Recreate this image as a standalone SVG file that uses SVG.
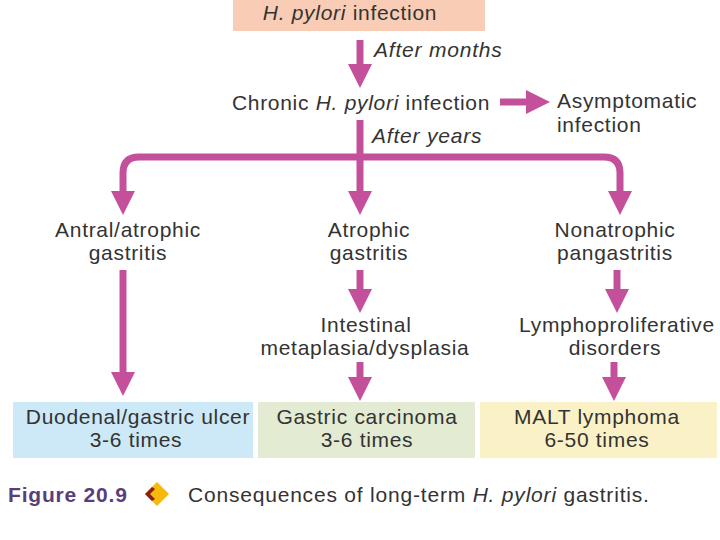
<svg xmlns="http://www.w3.org/2000/svg" width="720" height="540" viewBox="0 0 720 540">
<defs>
<marker id="ah" markerUnits="userSpaceOnUse" markerWidth="24" markerHeight="24" viewBox="0 0 24 24" refX="0" refY="12" orient="auto">
<path d="M0,0 L24,12 L0,24 z" fill="#c4509c"/>
</marker>
<style>
text{font-family:"Liberation Sans",Arial,sans-serif;fill:#333;font-size:21px;letter-spacing:0.7px}
.c{text-anchor:middle}
.i{font-style:italic}
.lbl{font-style:italic;font-size:21px;letter-spacing:0.8px}
.ar{stroke:#c4509c;stroke-width:7;fill:none;marker-end:url(#ah)}
.cap{font-size:21px;letter-spacing:0.8px}
</style>
</defs>
<rect width="720" height="540" fill="#fff"/>
<g id="n-infection">
<rect x="233" y="0" width="252" height="31" fill="#f9cdb5"/>
<text x="350" y="20" class="c"><tspan class="i">H. pylori</tspan> infection</text>
</g>
<g id="n-chronic">
<text x="361" y="110" class="c">Chronic <tspan class="i">H. pylori</tspan> infection</text>
</g>
<g id="n-asymp">
<text x="557" y="108">Asymptomatic</text>
<text x="557" y="132">infection</text>
</g>
<g id="n-antral">
<text x="128" y="237" class="c">Antral/atrophic</text>
<text x="128" y="260" class="c">gastritis</text>
</g>
<g id="n-atrophic">
<text x="369" y="237" class="c">Atrophic</text>
<text x="369" y="260" class="c">gastritis</text>
</g>
<g id="n-nonatrophic">
<text x="615" y="237" class="c">Nonatrophic</text>
<text x="615" y="260" class="c">pangastritis</text>
</g>
<g id="n-intestinal">
<text x="366" y="332" class="c">Intestinal</text>
<text x="365" y="355" class="c">metaplasia/dysplasia</text>
</g>
<g id="n-lympho">
<text x="617" y="332" class="c">Lymphoproliferative</text>
<text x="615" y="355" class="c">disorders</text>
</g>
<g id="n-ulcer">
<rect x="13" y="402" width="240" height="56" fill="#cde8f6"/>
<text x="138" y="424" class="c">Duodenal/gastric ulcer</text>
<text x="136" y="447" class="c">3-6 times</text>
</g>
<g id="n-carcinoma">
<rect x="258" y="402" width="217" height="56" fill="#e3ebd3"/>
<text x="367" y="424" class="c">Gastric carcinoma</text>
<text x="367" y="447" class="c">3-6 times</text>
</g>
<g id="n-malt">
<rect x="480" y="402" width="237" height="56" fill="#fbf1c6"/>
<text x="597" y="424" class="c">MALT lymphoma</text>
<text x="597" y="447" class="c">6-50 times</text>
</g>
<g id="connectors">
<line class="ar" x1="360" y1="40" x2="360" y2="64"/>
<text x="374" y="57" class="lbl">After months</text>
<line class="ar" x1="500" y1="102" x2="526" y2="102"/>
<line class="ar" x1="360" y1="120" x2="360" y2="191"/>
<text x="372" y="143" class="lbl">After years</text>
<path class="ar" d="M360,157 H139 Q123,157 123,173 V191"/>
<path class="ar" d="M360,157 H604 Q620,157 620,173 V191"/>
<line class="ar" x1="123" y1="270" x2="123" y2="372"/>
<line class="ar" x1="360" y1="270" x2="360" y2="289"/>
<line class="ar" x1="360" y1="362" x2="360" y2="377"/>
<line class="ar" x1="617" y1="270" x2="617" y2="289"/>
<line class="ar" x1="614" y1="362" x2="614" y2="377"/>
</g>
<g id="caption">
<text x="8" y="502" class="cap" style="font-weight:bold;fill:#5b3d7c">Figure 20.9</text>
<polygon points="145,494 157,482 169,494 157,506" fill="#f6b90c"/>
<path d="M152,487 L145,494 L152,501 L155,499 L150,494 L155,489 z" fill="#8a1f1a"/>
<text x="188" y="502" class="cap">Consequences of long-term <tspan class="i">H. pylori</tspan> gastritis.</text>
</g>
</svg>
